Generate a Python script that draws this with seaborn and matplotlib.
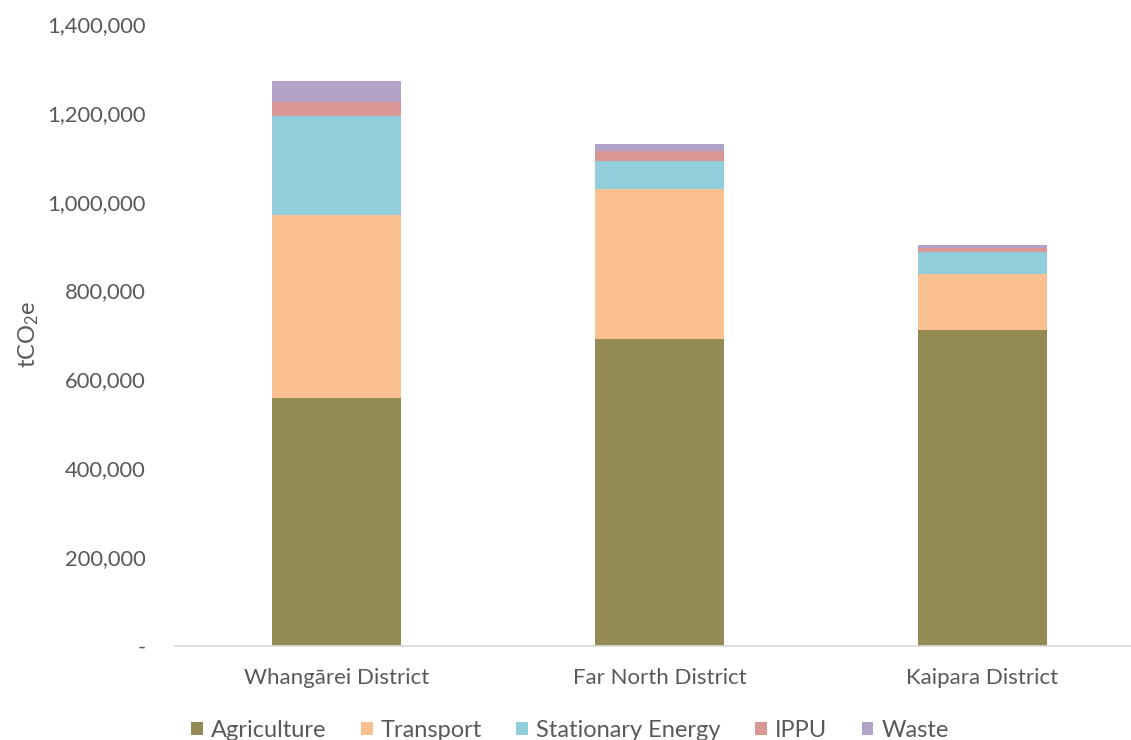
import numpy as np
import matplotlib
matplotlib.use("Agg")
import matplotlib.pyplot as plt
import seaborn as sns
from matplotlib.ticker import FuncFormatter

districts = ["Whangārei District", "Far North District", "Kaipara District"]
sectors = ["Agriculture", "Transport", "Stationary Energy", "IPPU", "Waste"]
agriculture = [558000, 690000, 710000]
transport = [412000, 339000, 127000]
stationary_energy = [224000, 62000, 49500]
ippu = [31500, 23500, 10000]
waste = [46000, 15500, 5000]
colors = ["#948A54", "#FAC090", "#92CDDC", "#D99694", "#B3A2C7"]

sns.set_theme(style="white")
plt.rcParams["font.family"] = ["Lato", "DejaVu Sans"]
plt.rcParams["mathtext.default"] = "regular"
grey = "#595959"

fig = plt.figure(figsize=(11.31, 7.40), dpi=100)
ax = fig.add_axes([175 / 1131, 1 - 645.7 / 740, 1 - 175 / 1131, (645.7 - 24.1) / 740])

bottom = np.zeros(len(districts))
for name, vals, col in zip(sectors, [agriculture, transport, stationary_energy, ippu, waste], colors):
    sns.barplot(x=districts, y=vals, bottom=bottom, color=col, width=0.4,
                label=name, ax=ax, saturation=1, edgecolor="none")
    bottom += np.array(vals)

ax.set_ylim(0, 1400000)
ax.set_xlim(-0.5, 2.46)
ax.set_yticks(np.arange(0, 1400001, 200000))
ax.yaxis.set_major_formatter(FuncFormatter(lambda v, p: "-" if v == 0 else f"{v:,.0f}"))
ax.tick_params(axis="y", length=0, pad=21, labelsize=15.8, labelcolor=grey)
ax.tick_params(axis="x", length=0, pad=16, labelsize=16, labelcolor=grey)
for s in ["top", "right", "left"]:
    ax.spines[s].set_visible(False)
ax.spines["bottom"].set_color("#d9d9d9")
ax.spines["bottom"].set_linewidth(1.2)
ax.set_xlabel("")
ax.set_ylabel("tCO$_2$e", fontsize=17, color=grey, labelpad=0)
ax.yaxis.set_label_coords(-134 / (1131 - 175), 0.5)

if ax.legend_:
    ax.legend_.remove()
handles, labels = ax.get_legend_handles_labels()
fig.legend(handles, labels, loc="center", bbox_to_anchor=(570 / 1131, 0.013), ncol=5,
           frameon=False, fontsize=17, labelcolor=grey, handlelength=0.5, handleheight=0.5,
           handletextpad=0.35, columnspacing=1.45)

fig.savefig("out.png", dpi=100)
